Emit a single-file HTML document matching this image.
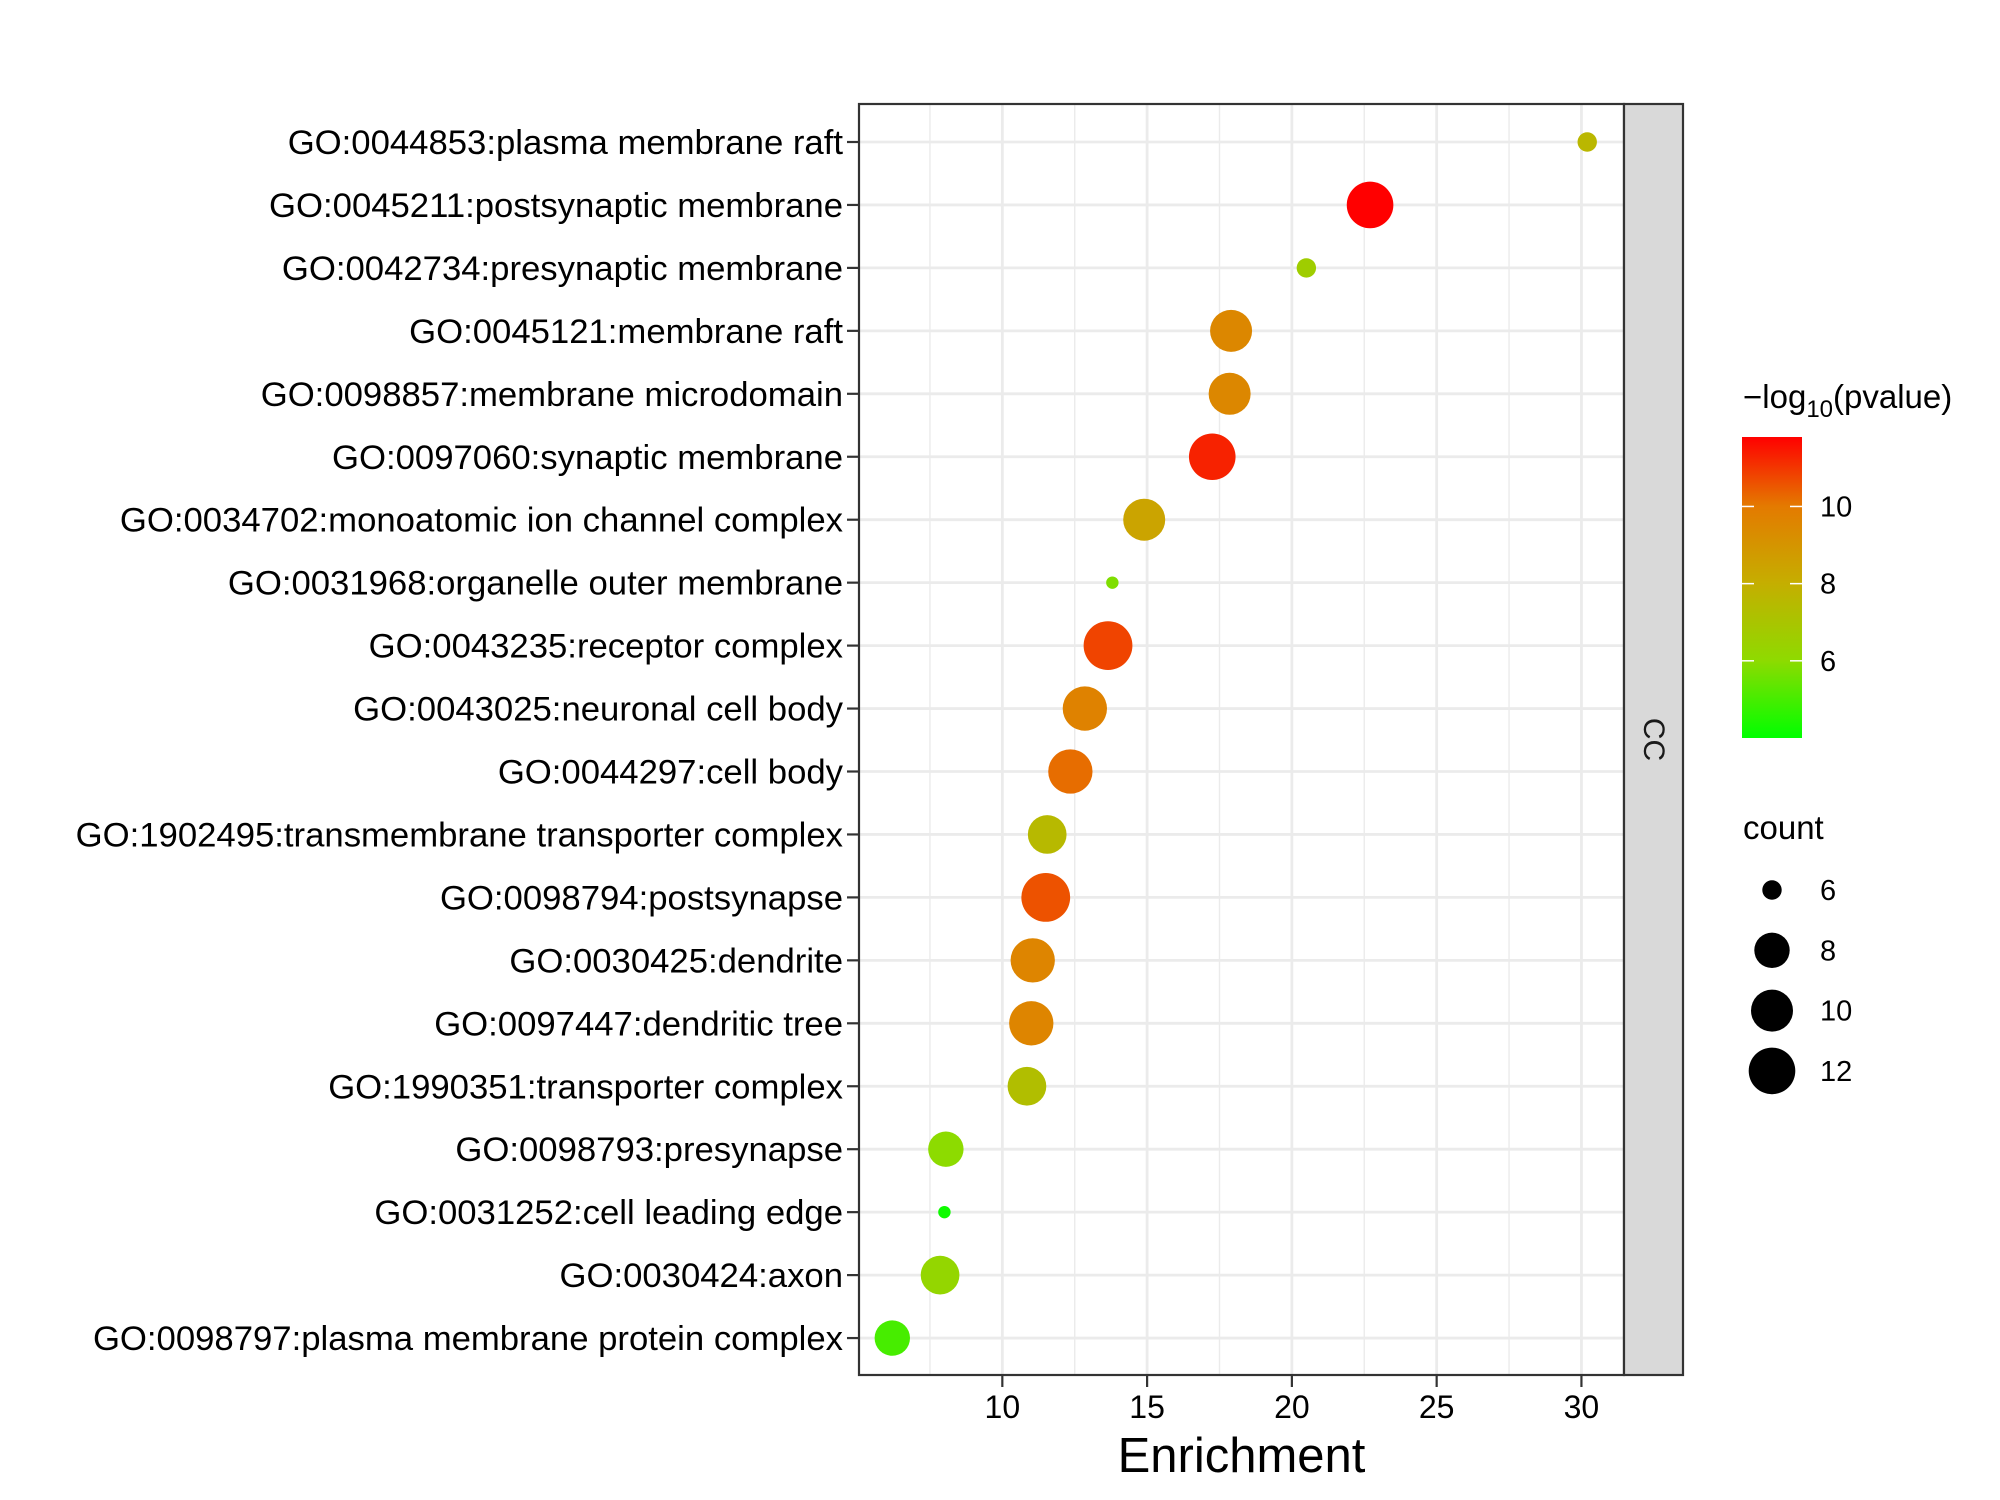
<!DOCTYPE html>
<html><head><meta charset="utf-8"><style>
html,body{margin:0;padding:0;background:#fff;}
svg{display:block;font-family:"Liberation Sans",Arial,sans-serif;}
</style></head><body>
<svg id="chart" width="2000" height="1500" viewBox="0 0 2000 1500" xmlns="http://www.w3.org/2000/svg">
<defs><linearGradient id="cbar" x1="0" y1="1" x2="0" y2="0">
<stop offset="0" stop-color="#00ff00"/><stop offset="0.26" stop-color="#8fda00"/><stop offset="0.52" stop-color="#c6ad00"/><stop offset="0.77" stop-color="#e47a00"/><stop offset="1" stop-color="#ff0000"/></linearGradient></defs>
<g id="plot"></g>
<g id="legend"></g>
</svg>
<script>
const terms = ["GO:0044853:plasma membrane raft","GO:0045211:postsynaptic membrane","GO:0042734:presynaptic membrane","GO:0045121:membrane raft","GO:0098857:membrane microdomain","GO:0097060:synaptic membrane","GO:0034702:monoatomic ion channel complex","GO:0031968:organelle outer membrane","GO:0043235:receptor complex","GO:0043025:neuronal cell body","GO:0044297:cell body","GO:1902495:transmembrane transporter complex","GO:0098794:postsynapse","GO:0030425:dendrite","GO:0097447:dendritic tree","GO:1990351:transporter complex","GO:0098793:presynapse","GO:0031252:cell leading edge","GO:0030424:axon","GO:0098797:plasma membrane protein complex"];
const enrichment = [30.2,22.7,20.5,17.9,17.85,17.25,14.9,13.8,13.65,12.85,12.35,11.55,11.5,11.05,11.0,10.85,8.05,8.0,7.85,6.2];
const counts = [6,12,6,10,10,12,10,5,13,11,11,9,13,11,11,9,8,5,9,8];
const logp = [7.6,11.8,6.6,9.5,9.5,11.3,8.4,5.8,10.8,9.7,10.2,7.5,10.6,9.6,9.6,7.3,6.0,4.2,6.2,5.0];
const xTicks = [10,15,20,25,30];
const colorTicks = [6,8,10];
const sizeBreaks = [6,8,10,12];

const NS="http://www.w3.org/2000/svg";
function el(tag,attrs,parent){const e=document.createElementNS(NS,tag);for(const k in attrs)e.setAttribute(k,attrs[k]);parent.appendChild(e);return e;}
const P={l:859,r:1624,t:104,b:1375};
const X0=5.05,X1=31.47;
const xs=v=>P.l+(v-X0)/(X1-X0)*(P.r-P.l);
const y0=142,dy=62.95;
const ys=i=>y0+i*dy;
const C0=4.0,C1=11.8;
const cstops=[[0,[0,255,0]],[0.26,[143,218,0]],[0.52,[198,173,0]],[0.77,[228,122,0]],[1,[255,0,0]]];
function col(v){let t=Math.max(0,Math.min(1,(v-C0)/(C1-C0)));for(let i=1;i<cstops.length;i++){if(t<=cstops[i][0]){const a=cstops[i-1],b=cstops[i];const f=(t-a[0])/(b[0]-a[0]);return 'rgb('+a[1].map((c,j)=>Math.round(c+(b[1][j]-c)*f)).join(',')+')';}}return 'rgb(255,0,0)';}
const rb=[6,8,10,12],rr=[9.7,17.7,21,23.3];
function rad(c){if(c<=rb[0])return Math.max(5,rr[0]-(rb[0]-c)*3.5);for(let i=1;i<rb.length;i++){if(c<=rb[i])return rr[i-1]+(rr[i]-rr[i-1])*(c-rb[i-1])/(rb[i]-rb[i-1]);}return rr[3]+(c-12)*1.1;}

const g=document.getElementById('plot');
let e;
e=el('rect',{x:P.l,y:P.t,width:P.r-P.l,height:P.b-P.t,fill:'#fff'},g);

for(let v=7.5;v<X1;v+=5){e=el('line',{x1:xs(v),x2:xs(v),y1:P.t,y2:P.b,stroke:'#ebebeb','stroke-width':1.4},g);
}
xTicks.forEach(v=>{e=el('line',{x1:xs(v),x2:xs(v),y1:P.t,y2:P.b,stroke:'#ebebeb','stroke-width':2.8},g);
});
terms.forEach((t,i)=>{e=el('line',{x1:P.l,x2:P.r,y1:ys(i),y2:ys(i),stroke:'#ebebeb','stroke-width':2.8},g);
});
terms.forEach((t,i)=>{e=el('circle',{cx:xs(enrichment[i]),cy:ys(i),r:rad(counts[i]),fill:col(logp[i])},g);
});
e=el('rect',{x:P.l,y:P.t,width:P.r-P.l,height:P.b-P.t,fill:'none',stroke:'#333','stroke-width':2.2},g);

e=el('rect',{x:P.r,y:P.t,width:59,height:P.b-P.t,fill:'#d9d9d9',stroke:'#333','stroke-width':2.2},g);

e=el('text',{x:0,y:0,transform:'translate('+(P.r+20)+','+((P.t+P.b)/2)+') rotate(90)','text-anchor':'middle','font-size':30,fill:'#1a1a1a'},g);e.textContent='CC';

terms.forEach((t,i)=>{e=el('line',{x1:P.l-12,x2:P.l,y1:ys(i),y2:ys(i),stroke:'#333','stroke-width':2.2},g);

e=el('text',{x:P.l-16,y:ys(i)+12,'text-anchor':'end','font-size':34.7,fill:'#000'},g);e.textContent=t;
});
xTicks.forEach(v=>{e=el('line',{x1:xs(v),x2:xs(v),y1:P.b,y2:P.b+12,stroke:'#333','stroke-width':2.2},g);

e=el('text',{x:xs(v),y:P.b+43,'text-anchor':'middle','font-size':32,fill:'#000'},g);e.textContent=v;
});
e=el('text',{x:(P.l+P.r)/2,y:1472,'text-anchor':'middle','font-size':49,fill:'#000'},g);e.textContent='Enrichment';


const L=document.getElementById('legend');
e=el('text',{x:1743,y:408,'font-size':33,fill:'#000'},L);
e.innerHTML='\u2212log<tspan font-size="24" dy="9">10</tspan><tspan dy="-9">(pvalue)</tspan>';

const cb={x:1742,w:60,t:437,b:738};
e=el('rect',{x:cb.x,y:cb.t,width:cb.w,height:cb.b-cb.t,fill:'url(#cbar)'},L);

const cy=v=>cb.b-(v-C0)/(C1-C0)*(cb.b-cb.t);
colorTicks.forEach(v=>{e=el('line',{x1:cb.x,x2:cb.x+12,y1:cy(v),y2:cy(v),stroke:'#fff','stroke-width':1.5},L);

e=el('line',{x1:cb.x+cb.w-12,x2:cb.x+cb.w,y1:cy(v),y2:cy(v),stroke:'#fff','stroke-width':1.5},L);

e=el('text',{x:1820,y:cy(v)+10,'font-size':29,fill:'#000'},L);e.textContent=v;
});
e=el('text',{x:1743,y:839,'font-size':33,fill:'#000'},L);e.textContent='count';

sizeBreaks.forEach((c,i)=>{const yy=890+i*60.3;
e=el('circle',{cx:1772,cy:yy,r:rad(c),fill:'#000'},L);

e=el('text',{x:1820,y:yy+10,'font-size':29,fill:'#000'},L);e.textContent=c;
});
</script>
</body></html>
